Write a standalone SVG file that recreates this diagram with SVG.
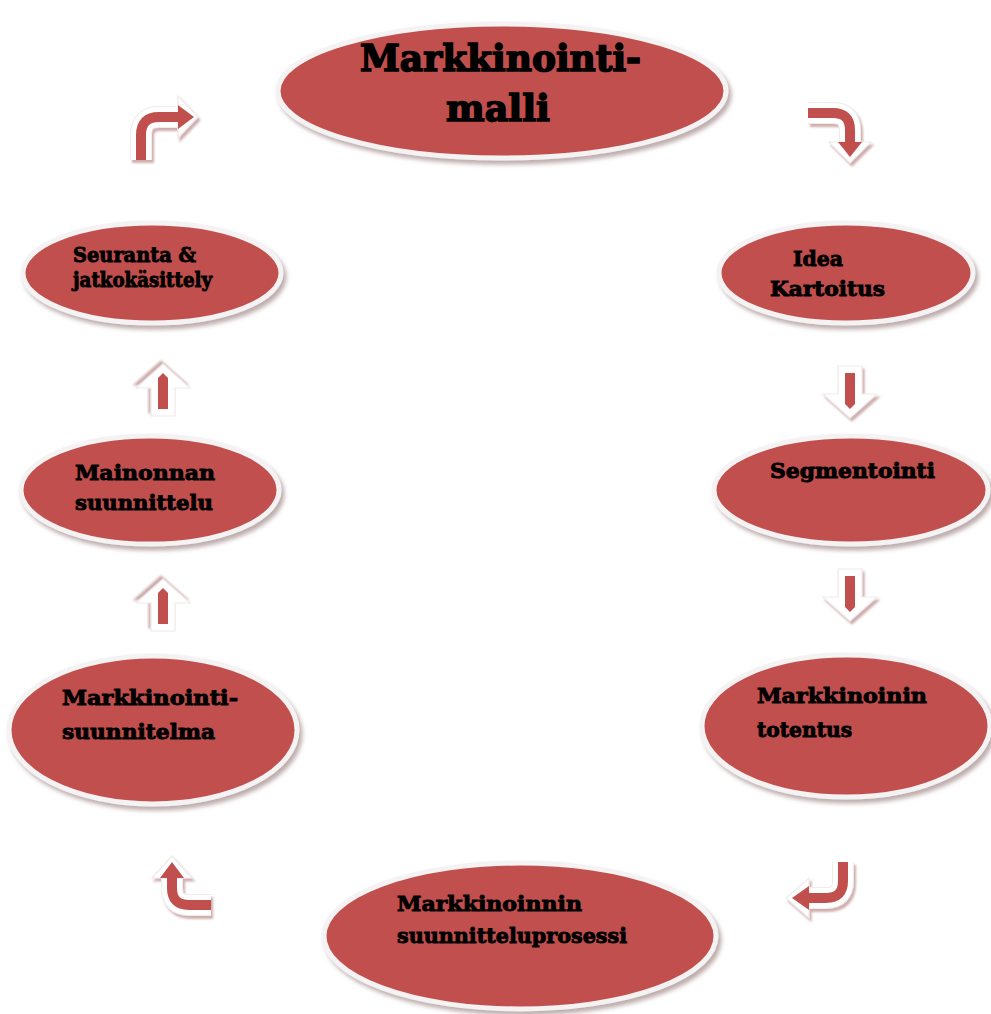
<svg xmlns="http://www.w3.org/2000/svg" width="991" height="1014" viewBox="0 0 991 1014">
<defs>
<filter id="sh" x="-10%" y="-10%" width="125%" height="130%">
<feGaussianBlur in="SourceAlpha" stdDeviation="2"/>
<feOffset dx="3" dy="4" result="b"/>
<feFlood flood-color="#8a6a6a" flood-opacity="0.55"/>
<feComposite in2="b" operator="in"/>
<feMerge><feMergeNode/><feMergeNode in="SourceGraphic"/></feMerge>
</filter>
<filter id="ash" x="-30%" y="-30%" width="170%" height="170%">
<feGaussianBlur in="SourceAlpha" stdDeviation="1"/>
<feOffset dx="2" dy="3" result="b"/>
<feFlood flood-color="#a86c6c" flood-opacity="0.55"/>
<feComposite in2="b" operator="in"/>
<feMerge><feMergeNode/><feMergeNode in="SourceGraphic"/></feMerge>
</filter>
<g id="darrow">
<path d="M -12,-26 L 12,-26 L 12,2 L 27,2 L 0,26 L -27,2 L -12,2 Z" fill="#ffffff" stroke="#f0eaea" stroke-width="1.2"/>
<path d="M -5,-19 L 5,-19 L 5,12 L 0,17 L -5,12 Z" fill="#c0504d"/>
</g>
</defs>
<style>
.node ellipse{fill:#c0504d;stroke:#f4f2f2;stroke-width:5;filter:url(#sh)}
.node text{font-family:"DejaVu Serif","Liberation Serif",serif;font-weight:bold;fill:#000;stroke:#000;stroke-width:0.9;font-size:21px}
.node text.big{font-size:37px;stroke-width:1.6}
.out{fill:none;stroke:#ffffff;stroke-width:20}
.outline{fill:none;stroke:#f0eaea;stroke-width:22}
.red{fill:none;stroke:#c0504d;stroke-width:10}
.hw{fill:#ffffff;stroke:#f0eaea;stroke-width:1.2}
.hr{fill:#c0504d}
</style>
<rect width="991" height="1014" fill="#ffffff"/>

<g id="connectors">
<g id="c-top-right" filter="url(#ash)">
<path class="outline" d="M 808,113 L 833,113 Q 850,113 850,130 L 850,143"/>
<path class="out" d="M 808,113 L 833,113 Q 850,113 850,130 L 850,143"/>
<polygon class="hw" points="829,142 871,142 850,163"/>
<path class="red" d="M 808,113 L 833,113 Q 850,113 850,130 L 850,143"/>
<polygon class="hr" points="838,142 862,142 850,157"/>
</g>
<use href="#darrow" x="850" y="392" filter="url(#ash)"/>
<use href="#darrow" x="850" y="595" filter="url(#ash)"/>
<g id="c-bottom-right" filter="url(#ash)">
<path class="outline" d="M 843,862 L 843,881 Q 843,898 826,898 L 808,898"/>
<path class="out" d="M 843,862 L 843,881 Q 843,898 826,898 L 808,898"/>
<polygon class="hw" points="809,878 809,918 786,898"/>
<path class="red" d="M 843,862 L 843,881 Q 843,898 826,898 L 808,898"/>
<polygon class="hr" points="809,886 809,910 792,898"/>
</g>
<g id="c-bottom-left" filter="url(#ash)">
<path class="outline" d="M 211,905 L 189,905 Q 172,905 172,888 L 172,877"/>
<path class="out" d="M 211,905 L 189,905 Q 172,905 172,888 L 172,877"/>
<polygon class="hw" points="152,878 192,878 172,856"/>
<path class="red" d="M 211,905 L 189,905 Q 172,905 172,888 L 172,877"/>
<polygon class="hr" points="160,878 184,878 172,862"/>
</g>
<use href="#darrow" transform="translate(163,605) rotate(180)" filter="url(#ash)"/>
<use href="#darrow" transform="translate(163,390) rotate(180)" filter="url(#ash)"/>
<g id="c-top-left" filter="url(#ash)">
<path class="outline" d="M 141,160 L 141,135 Q 141,117 159,117 L 179,117"/>
<path class="out" d="M 141,160 L 141,135 Q 141,117 159,117 L 179,117"/>
<polygon class="hw" points="178,96 178,138 198,117"/>
<path class="red" d="M 141,160 L 141,135 Q 141,117 159,117 L 179,117"/>
<polygon class="hr" points="178,105 178,129 194,117"/>
</g>
</g>

<g id="n-title" class="node">
<ellipse cx="502" cy="91" rx="224" ry="67"/>
<text class="big" x="360" y="71" textLength="281" lengthAdjust="spacingAndGlyphs">Markkinointi-</text>
<text class="big" x="446" y="121" textLength="104" lengthAdjust="spacingAndGlyphs">malli</text>
</g>
<g id="n-idea" class="node">
<ellipse cx="846" cy="273" rx="127" ry="50"/>
<text x="793" y="266" textLength="50" lengthAdjust="spacingAndGlyphs">Idea</text>
<text x="770" y="296" textLength="115" lengthAdjust="spacingAndGlyphs">Kartoitus</text>
</g>
<g id="n-segmentointi" class="node">
<ellipse cx="851" cy="490" rx="137" ry="54"/>
<text x="770" y="478" textLength="165" lengthAdjust="spacingAndGlyphs">Segmentointi</text>
</g>
<g id="n-toteutus" class="node">
<ellipse cx="846" cy="726" rx="144" ry="71"/>
<text x="757" y="703" textLength="170" lengthAdjust="spacingAndGlyphs">Markkinoinin</text>
<text x="757" y="737" textLength="95" lengthAdjust="spacingAndGlyphs">totentus</text>
</g>
<g id="n-prosessi" class="node">
<ellipse cx="520" cy="936" rx="196" ry="73"/>
<text x="397" y="911" textLength="185" lengthAdjust="spacingAndGlyphs">Markkinoinnin</text>
<text x="397" y="943" textLength="230" lengthAdjust="spacingAndGlyphs">suunnitteluprosessi</text>
</g>
<g id="n-suunnitelma" class="node">
<ellipse cx="153" cy="730" rx="144" ry="74"/>
<text x="62" y="705" textLength="176" lengthAdjust="spacingAndGlyphs">Markkinointi-</text>
<text x="62" y="739" textLength="153" lengthAdjust="spacingAndGlyphs">suunnitelma</text>
</g>
<g id="n-mainonta" class="node">
<ellipse cx="150" cy="490" rx="129" ry="54"/>
<text x="75" y="480" textLength="140" lengthAdjust="spacingAndGlyphs">Mainonnan</text>
<text x="75" y="510" textLength="138" lengthAdjust="spacingAndGlyphs">suunnittelu</text>
</g>
<g id="n-seuranta" class="node">
<ellipse cx="152" cy="273" rx="129" ry="50"/>
<text x="73" y="262" textLength="123" lengthAdjust="spacingAndGlyphs">Seuranta &amp;</text>
<text x="73" y="287" textLength="139" lengthAdjust="spacingAndGlyphs">jatkokäsittely</text>
</g>
</svg>
